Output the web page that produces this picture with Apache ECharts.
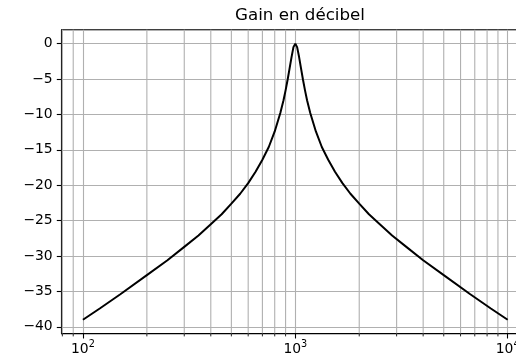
<!DOCTYPE html>
<html>
<head>
<meta charset="utf-8">
<style>
  html, body { margin: 0; padding: 0; background: #fff; }
  #main { width: 516px; height: 363px; }
</style>
</head>
<body>
<div id="main"></div>
<script src="https://cdn.jsdelivr.net/npm/echarts@6/dist/echarts.min.js"></script>
<script>
// fréquences (Hz) et gain (dB)
var freqs = [100, 120, 150, 200, 250, 300, 350, 400, 450, 500, 550, 600, 650, 700, 750, 800, 850, 880, 900, 920, 940, 960, 980,
             1000,
             1020, 1042, 1064, 1087, 1111, 1136, 1176, 1250, 1333, 1429, 1538, 1667, 1818, 2000, 2222, 2500, 2857, 3333, 4000, 5000, 6667, 8333, 10000];
var gainDb = [-39.0, -37.4, -35.4, -32.7, -30.6, -28.7, -27.1, -25.5, -24.1, -22.6, -21.2, -19.7, -18.1, -16.4, -14.6, -12.4, -9.8, -8.0, -6.6, -5.1, -3.5, -1.9, -0.5,
              0,
              -0.5, -1.9, -3.5, -5.1, -6.6, -8.0, -9.8, -12.4, -14.6, -16.4, -18.1, -19.7, -21.2, -22.6, -24.1, -25.5, -27.1, -28.7, -30.6, -32.7, -35.4, -37.4, -39.0];
// graduations secondaires (grille "both")
var minorTicks = [80, 90, 200, 300, 400, 500, 600, 700, 800, 900, 2000, 3000, 4000, 5000, 6000, 7000, 8000, 9000];

var xMin = Math.pow(10, 1.9), xMax = Math.pow(10, 4.1);
var yMin = -40.95, yMax = 1.95;

var chart = echarts.init(document.getElementById('main'));
var option = {
    animation: false,
    title: {
        text: 'Gain en décibel',
        left: 295,
        top: 2,
        textAlign: 'center',
        textStyle: { fontFamily: 'DejaVu Sans', fontSize: 16.7, fontWeight: 'normal', color: '#000' }
    },
    grid: {
        left: 61.7, top: 29.8, width: 467.2, height: 303.8,
        outerBoundsMode: 'none',
        containLabel: false,
        show: true, borderColor: '#000', borderWidth: 1.1, backgroundColor: 'transparent'
    },
    xAxis: {
        type: 'log', logBase: 10, min: xMin, max: xMax,
        axisLine: { show: true, onZero: false, lineStyle: { color: '#000', width: 1.1 } },
        axisTick: { show: true, length: 4.9, lineStyle: { color: '#000', width: 1.1 } },
        axisLabel: {
            margin: 6, color: '#000', fontFamily: 'DejaVu Sans', fontSize: 13.9,
            showMinLabel: false, showMaxLabel: false, hideOverlap: false,
            formatter: function (v) {
                var e = Math.round(Math.log10(v));
                if (Math.abs(Math.log10(v) - e) > 1e-6) return '';
                return '{n|10}{s|' + e + '}';
            },
            rich: {
                n: { fontFamily: 'DejaVu Sans', fontSize: 13.9, lineHeight: 19, color: '#000' },
                s: { fontFamily: 'DejaVu Sans', fontSize: 9.7, lineHeight: 10, verticalAlign: 'top', color: '#000' }
            }
        },
        splitLine: { show: true, lineStyle: { color: '#b0b0b0', width: 1.1 } }
    },
    yAxis: {
        type: 'value', min: yMin, max: yMax, splitNumber: 8,
        axisLine: { show: true, onZero: false, lineStyle: { color: '#000', width: 1.1 } },
        axisTick: { show: true, length: 4.9, lineStyle: { color: '#000', width: 1.1 } },
        axisLabel: {
            margin: 9, color: '#000', fontFamily: 'DejaVu Sans', fontSize: 13.9,
            showMinLabel: false, showMaxLabel: false,
            formatter: function (v) {
                if (Math.abs(v % 5) > 1e-6) return '';
                return v < 0 ? '\u2212' + Math.abs(v) : String(v);
            }
        },
        splitLine: { show: true, lineStyle: { color: '#b0b0b0', width: 1.1 } }
    },
    series: [
        {
            type: 'custom',
            silent: true,
            z: 1,
            data: minorTicks.map(function (f) { return [f, yMin]; }),
            encode: { x: 0, y: 1 },
            renderItem: function (params, api) {
                var top = api.coord([api.value(0), yMax]);
                var bot = api.coord([api.value(0), yMin]);
                return {
                    type: 'group',
                    children: [
                        { type: 'line', shape: { x1: top[0], y1: top[1], x2: bot[0], y2: bot[1] },
                          style: { stroke: '#b0b0b0', lineWidth: 1.1 } },
                        { type: 'line', shape: { x1: bot[0], y1: bot[1], x2: bot[0], y2: bot[1] + 2.8 },
                          style: { stroke: '#000', lineWidth: 0.85 } }
                    ]
                };
            }
        },
        {
            type: 'line',
            z: 3,
            data: freqs.map(function (f, i) { return [f, gainDb[i]]; }),
            showSymbol: false,
            smooth: false,
            lineStyle: { color: '#000', width: 2 },
            itemStyle: { color: '#000' }
        }
    ]
};
chart.setOption(option);
</script>
</body>
</html>
